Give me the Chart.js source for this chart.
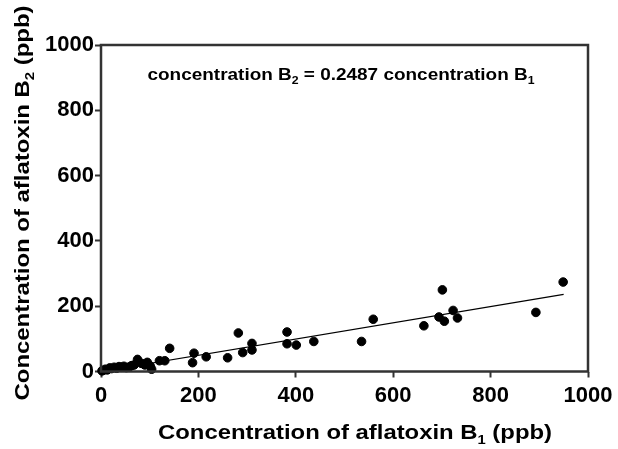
<!DOCTYPE html>
<html>
<head>
<meta charset="utf-8">
<script src="https://cdn.jsdelivr.net/npm/chart.js@4.4.3/dist/chart.umd.min.js"></script>
<style>
  html, body { margin: 0; padding: 0; background: #fff; }
  #wrap { width: 618px; height: 449px; }
</style>
</head>
<body>
<div id="wrap"><canvas id="chart" width="618" height="449"></canvas></div>
<script>
// aflatoxin B1 (ppb) vs aflatoxin B2 (ppb)
const b1Values = [
  2, 5, 9, 13, 18, 22, 27, 32, 37, 42, 47, 52, 58, 63, 68, 75, 83, 90, 95, 101, 104,
  120, 131, 141, 188, 191, 216, 260, 282, 291, 310, 310, 382, 382, 401, 437,
  535, 559, 663, 694, 701, 705, 723, 732, 893, 949,
];
const b2Values = [
  2, 4, 7, 5, 11, 9, 13, 10, 15, 13, 16, 12, 14, 18, 20, 37, 25, 20, 28, 17, 7,
  33, 33, 71, 27, 56, 45, 42, 118, 58, 86, 66, 121, 85, 81, 92,
  92, 160, 140, 167, 250, 154, 187, 164, 181, 274,
];
const slope = 0.2487;
const fitRange = [0, 950];
const tickValues = [0, 200, 400, 600, 800, 1000];

const FONT = '"Liberation Sans", Arial, sans-serif';
const INK = "#000";
const FRAME = "#333";

const scatterPoints = b1Values.map((x, i) => ({ x, y: b2Values[i] }));
const fitPoints = fitRange.map((x) => ({ x, y: slope * x }));

// draws text with subscript pieces, squeezed/stretched to a target width
function drawRich(ctx, parts, x, y, size, width) {
  const subSize = Math.round(size * 0.62);
  let total = 0;
  for (const part of parts) {
    ctx.font = `bold ${part.sub ? subSize : size}px ${FONT}`;
    part.w = ctx.measureText(part.t).width;
    total += part.w;
  }
  ctx.save();
  ctx.translate(x, y);
  ctx.scale(width / total, 1);
  ctx.fillStyle = INK;
  ctx.textBaseline = "alphabetic";
  ctx.textAlign = "left";
  let cx = -total / 2;
  for (const part of parts) {
    ctx.font = `bold ${part.sub ? subSize : size}px ${FONT}`;
    ctx.fillText(part.t, cx, part.sub ? size * 0.22 : 0);
    cx += part.w;
  }
  ctx.restore();
}

const labelsPlugin = {
  id: "labels",
  afterDraw(chart) {
    const { ctx, chartArea } = chart;
    ctx.save();
    ctx.strokeStyle = FRAME;
    ctx.lineWidth = 2.5;
    ctx.strokeRect(
      chartArea.left,
      chartArea.top,
      chartArea.right - chartArea.left,
      chartArea.bottom - chartArea.top
    );
    ctx.restore();

    drawRich(
      ctx,
      [{ t: "concentration B" }, { t: "2", sub: true }, { t: " = 0.2487 concentration B" }, { t: "1", sub: true }],
      341, 80, 17, 387
    );
    drawRich(
      ctx,
      [{ t: "Concentration of aflatoxin B" }, { t: "1", sub: true }, { t: " (ppb)" }],
      355, 439, 21, 394
    );
    ctx.save();
    ctx.translate(29, 203);
    ctx.rotate(-Math.PI / 2);
    drawRich(
      ctx,
      [{ t: "Concentration of aflatoxin B" }, { t: "2", sub: true }, { t: " (ppb)" }],
      0, 0, 21, 395
    );
    ctx.restore();
  },
};

const axisCommon = {
  type: "linear",
  min: 0,
  max: 1000,
  border: { display: false },
  grid: {
    drawOnChartArea: false,
    drawTicks: true,
    tickLength: 6,
    tickWidth: 2,
    tickColor: FRAME,
  },
  afterBuildTicks: (scale) => {
    scale.ticks = tickValues.map((value) => ({ value }));
  },
};

const tickFont = { family: FONT, size: 22, weight: "bold" };

new Chart(document.getElementById("chart"), {
  type: "scatter",
  data: {
    datasets: [
      {
        label: "Samples",
        data: scatterPoints,
        backgroundColor: INK,
        borderColor: INK,
        pointRadius: 4.3,
        pointHoverRadius: 4.3,
        clip: false,
      },
      {
        type: "line",
        label: "Fit",
        data: fitPoints,
        borderColor: INK,
        borderWidth: 1.2,
        pointRadius: 0,
        fill: false,
      },
    ],
  },
  options: {
    responsive: false,
    animation: false,
    layout: { padding: { top: 45, right: 30, left: 0, bottom: 0 } },
    plugins: {
      legend: { display: false },
      tooltip: { enabled: false },
    },
    scales: {
      x: {
        ...axisCommon,
        position: "bottom",
        ticks: {
          color: INK,
          padding: 5,
          maxRotation: 0,
          font: tickFont,
          callback: (value) => String(value),
        },
        afterFit: (scale) => {
          scale.height = 77.5;
        },
      },
      y: {
        ...axisCommon,
        position: "left",
        ticks: {
          color: INK,
          padding: 1,
          font: tickFont,
          callback: (value) => String(value),
        },
        afterFit: (scale) => {
          scale.width = 101;
        },
      },
    },
  },
  plugins: [labelsPlugin],
});
</script>
</body>
</html>
